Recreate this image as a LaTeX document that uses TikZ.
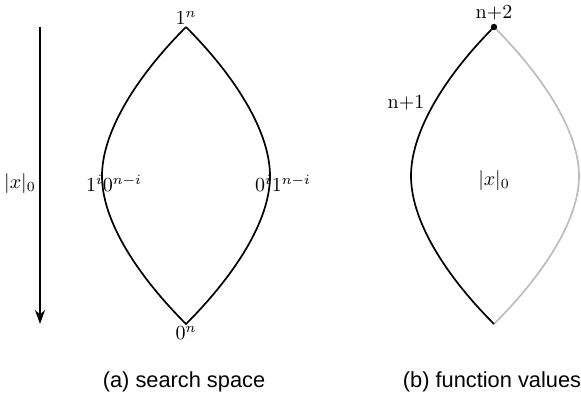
\documentclass[tikz,border=0pt]{standalone}
\usepackage{fontspec}
\usetikzlibrary{arrows.meta}
\newfontfamily\capfont{Liberation Sans}
\begin{document}
\begin{tikzpicture}[x=0.5pt,y=0.5pt,
  lensline/.style={line width=0.85pt},
  grayline/.style={line width=0.85pt,draw=black!26},
  caption/.style={font=\capfont\fontsize{10.9}{12}\selectfont},
  lbl/.style={inner sep=1pt}]
\useasboundingbox (0,0) rectangle (581,397);
% left lens
\coordinate (T) at (186,370);
\coordinate (B) at (186,73);
\coordinate (L) at (102,221);
\coordinate (R) at (270,221);
\draw[lensline] (T) .. controls +(-47,-47) and +(0,46) .. (L)
  .. controls +(0,-46) and +(-47,47) .. (B)
  .. controls +(47,47) and +(0,-46) .. (R)
  .. controls +(0,46) and +(47,-47) .. (T);
% arrow
\coordinate (A1) at (40,370);
\coordinate (A2) at (40,73);
\draw[line width=1pt,-{Stealth[length=7pt,width=5pt]}] (A1) -- (A2);
\node[lbl,anchor=south] (topn) at (T) {$1^n$};
\node[lbl,anchor=north] (botn) at (B) {$0^n$};
\node (xl) at (20,214) {$|x|_0$};
\node (lm) at (114,214) {$1^i0^{n-i}$};
\node (rm) at (283,214) {$0^i1^{n-i}$};
\node[caption] (capa) at (184,15) {(a) search space};
% right lens
\coordinate (T2) at (494,370);
\coordinate (B2) at (494,73);
\coordinate (L2) at (411,221);
\coordinate (R2) at (579,221);
\draw[grayline] (T2) .. controls +(47,-47) and +(0,46) .. (R2)
  .. controls +(0,-46) and +(47,47) .. (B2);
\draw[lensline] (T2) .. controls +(-47,-47) and +(0,46) .. (L2)
  .. controls +(0,-46) and +(-47,47) .. (B2);
\fill (T2) circle (3.2);
\node[lbl,anchor=south] (n2) at ([yshift=2]T2) {n+2};
\node (n1) at (406,294) {n+1};
\node (xr) at (494,217) {$|x|_0$};
\node[caption] (capb) at (492,15) {(b) function values};
\end{tikzpicture}
\end{document}
